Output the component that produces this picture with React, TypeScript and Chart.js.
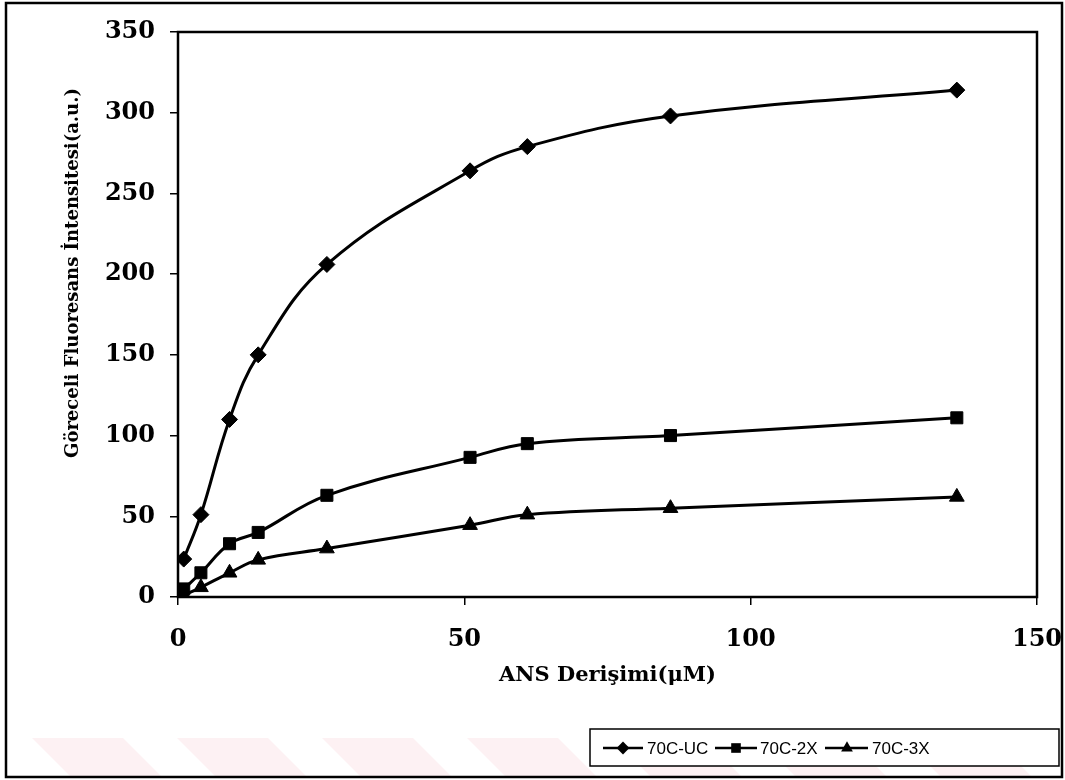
import React, { useEffect, useRef } from "react";
import { Chart, registerables } from "chart.js";

Chart.register(...registerables);

// ---- data ----
const concentrations = [1, 4, 9, 14, 26, 51, 61, 86, 136];
const seriesUC = [23.5, 51, 110, 150, 206, 264, 279, 298, 314];
const series2X = [5, 15, 33, 40, 63, 86.5, 95, 100, 111];
const series3X = [1, 6, 15, 23, 30, 44.5, 51, 55, 62];
const seriesNames = ["70C-UC", "70C-2X", "70C-3X"];
const pointStyles = ["rectRot", "rect", "triangle"];
const pointRadii = [8, 8.5, 8.5];
const xTitle = "ANS Derişimi(μM)";
const yTitle = "Göreceli Fluoresans İntensitesi(a.u.)";
const xMin = 0, xMax = 150, xStep = 50;
const yMin = 0, yMax = 350, yStep = 50;

const SERIF = "'DejaVu Serif', serif";
const SANS = "'Liberation Sans', Arial, sans-serif";

function drawMarker(ctx: CanvasRenderingContext2D, style: string, x: number, y: number, r: number) {
  ctx.beginPath();
  if (style === "rectRot") {
    ctx.moveTo(x, y - r);
    ctx.lineTo(x + r, y);
    ctx.lineTo(x, y + r);
    ctx.lineTo(x - r, y);
  } else if (style === "rect") {
    const s = Math.SQRT1_2 * r;
    ctx.rect(x - s, y - s, 2 * s, 2 * s);
  } else {
    ctx.moveTo(x, y - r);
    ctx.lineTo(x + (Math.sqrt(3) / 2) * r, y + r / 2);
    ctx.lineTo(x - (Math.sqrt(3) / 2) * r, y + r / 2);
  }
  ctx.closePath();
  ctx.fill();
}

const decorPlugin = {
  id: "decor",
  beforeDraw(chart: any) {
    const ctx = chart.ctx as CanvasRenderingContext2D;
    ctx.save();
    ctx.fillStyle = "#ffffff";
    ctx.fillRect(0, 0, chart.width, chart.height);
    // faint watermark stripes
    ctx.fillStyle = "rgba(235,120,140,0.10)";
    for (let x0 = 32; x0 < 1000; x0 += 145) {
      ctx.beginPath();
      ctx.moveTo(x0, 738);
      ctx.lineTo(x0 + 91, 738);
      ctx.lineTo(x0 + 129, 776);
      ctx.lineTo(x0 + 38, 776);
      ctx.closePath();
      ctx.fill();
    }
    // outer border
    ctx.strokeStyle = "#000";
    ctx.lineWidth = 2.5;
    ctx.strokeRect(6, 3, 1056, 774);
    ctx.restore();
  },
  afterDatasetsDraw(chart: any) {
    const ctx = chart.ctx as CanvasRenderingContext2D;
    const a = chart.chartArea;
    ctx.save();
    // plot frame
    ctx.strokeStyle = "#000";
    ctx.lineWidth = 2.5;
    ctx.strokeRect(a.left, a.top, a.right - a.left, a.bottom - a.top);
    // y title
    ctx.fillStyle = "#000";
    ctx.font = `bold 18px ${SERIF}`;
    ctx.textAlign = "center";
    ctx.textBaseline = "middle";
    ctx.translate(73, 273);
    ctx.rotate(-Math.PI / 2);
    ctx.fillText(yTitle, 0, 0);
    ctx.restore();

    // legend
    ctx.save();
    ctx.fillStyle = "#fff";
    ctx.fillRect(590, 729, 469, 37);
    ctx.strokeStyle = "#000";
    ctx.lineWidth = 1.5;
    ctx.strokeRect(590, 729, 469, 37);
    const items = [
      [603, 643, 623, 647],
      [715, 757, 736, 760],
      [825, 868, 847, 872],
    ];
    const ly = 748;
    ctx.font = `17px ${SANS}`;
    ctx.textBaseline = "middle";
    ctx.textAlign = "left";
    items.forEach((it, i) => {
      ctx.strokeStyle = "#000";
      ctx.lineWidth = 2.5;
      ctx.beginPath();
      ctx.moveTo(it[0], ly);
      ctx.lineTo(it[1], ly);
      ctx.stroke();
      ctx.fillStyle = "#000";
      drawMarker(ctx, pointStyles[i], it[2], ly, pointRadii[i] * 0.8);
      ctx.fillText(seriesNames[i], it[3], ly + 1);
    });
    ctx.restore();
  },
};

export default function App() {
  const canvasRef = useRef<HTMLCanvasElement | null>(null);

  useEffect(() => {
    document.body.style.margin = "0";
    const canvas = canvasRef.current;
    if (!canvas) return;
    const allSeries = [seriesUC, series2X, series3X];
    const chart = new Chart(canvas, {
      type: "line",
      data: {
        datasets: allSeries.map((vals, i) => ({
          label: seriesNames[i],
          data: concentrations.map((c, j) => ({ x: c, y: vals[j] })),
          borderColor: "#000",
          backgroundColor: "#000",
          borderWidth: 3,
          pointStyle: pointStyles[i] as any,
          pointRadius: pointRadii[i],
          pointBackgroundColor: "#000",
          pointBorderColor: "#000",
          pointBorderWidth: 1,
          tension: 0.4,
          fill: false,
        })),
      },
      options: {
        responsive: false,
        animation: false,
        events: [],
        layout: { padding: { left: 0, top: 32, right: 28, bottom: 0 } },
        plugins: {
          legend: { display: false },
          tooltip: { enabled: false },
        },
        scales: {
          x: {
            type: "linear",
            min: xMin,
            max: xMax,
            afterFit: (s: any) => {
              s.height = 183;
              s.paddingLeft = 0;
              s.paddingRight = 0;
            },
            ticks: {
              stepSize: xStep,
              color: "#000",
              padding: 20,
              font: { family: SERIF, size: 24, weight: "bold" },
            },
            grid: {
              display: true,
              drawOnChartArea: false,
              drawTicks: true,
              tickLength: 8,
              color: "#000",
              lineWidth: 1.5,
            },
            border: { display: false },
            title: {
              display: true,
              text: xTitle,
              color: "#000",
              font: { family: SERIF, size: 21, weight: "bold" },
              padding: { top: 0, bottom: 92 },
            },
          },
          y: {
            type: "linear",
            min: yMin,
            max: yMax,
            afterFit: (s: any) => {
              s.width = 178;
              s.paddingTop = 0;
              s.paddingBottom = 0;
            },
            ticks: {
              stepSize: yStep,
              color: "#000",
              padding: 15,
              font: { family: SERIF, size: 24, weight: "bold" },
            },
            grid: {
              display: true,
              drawOnChartArea: false,
              drawTicks: true,
              tickLength: 8,
              color: "#000",
              lineWidth: 1.5,
            },
            border: { display: false },
          },
        },
      },
      plugins: [decorPlugin],
    });
    return () => chart.destroy();
  }, []);

  return (
    <div style={{ width: 1065, height: 780 }}>
      <canvas ref={canvasRef} width={1065} height={780} />
    </div>
  );
}
